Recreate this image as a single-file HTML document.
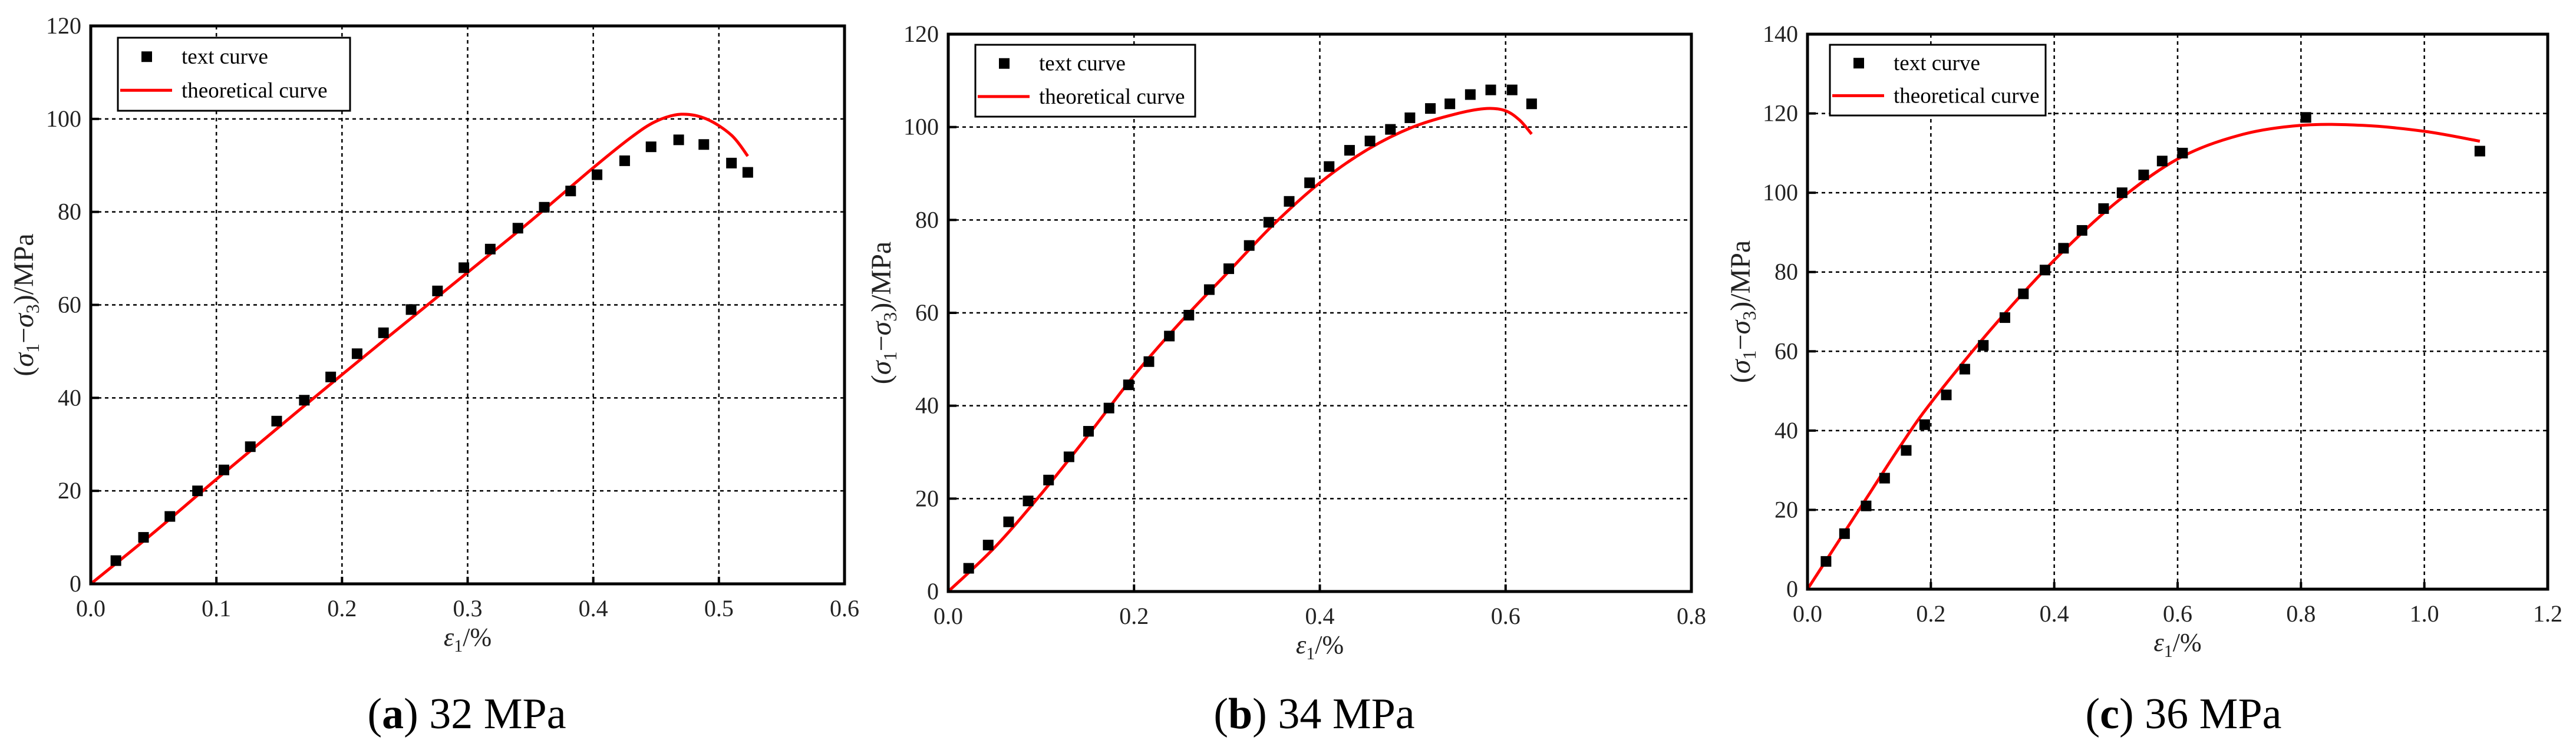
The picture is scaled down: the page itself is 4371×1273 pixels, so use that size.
<!DOCTYPE html>
<html><head><meta charset="utf-8">
<style>
html,body{margin:0;padding:0;background:#fff;}
svg{display:block;font-family:"Liberation Serif",serif;}
</style></head>
<body>
<svg id="fig" width="4371" height="1273" viewBox="0 0 4371 1273" xmlns="http://www.w3.org/2000/svg"></svg>
<script>
// Panel (a) 32 MPa
const aTestX=[0.02,0.042,0.063,0.085,0.106,0.127,0.148,0.17,0.191,0.212,0.233,0.255,0.276,0.297,0.318,0.34,0.361,0.382,0.403,0.425,0.446,0.468,0.488,0.51,0.523];
const aTestY=[5,10,14.5,20,24.5,29.5,35,39.5,44.5,49.5,54,59,63,68,72,76.5,81,84.5,88,91,94,95.5,94.5,90.5,88.5];
const aTheoX=[0,0.05,0.1,0.2,0.3,0.35,0.4,0.43,0.45,0.47,0.49,0.51,0.523];
const aTheoY=[0,11,22.5,45,67,78,89.5,96,99.5,101,100,96.5,92];
const aXTicks=["0.0","0.1","0.2","0.3","0.4","0.5","0.6"];
const aYTicks=["0","20","40","60","80","100","120"];
// Panel (b) 34 MPa
const bTestX=[0.022,0.043,0.065,0.086,0.108,0.13,0.151,0.173,0.194,0.216,0.238,0.259,0.281,0.302,0.324,0.345,0.367,0.389,0.41,0.432,0.454,0.476,0.497,0.519,0.54,0.562,0.584,0.607,0.628];
const bTestY=[5,10,15,19.5,24,29,34.5,39.5,44.5,49.5,55,59.5,65,69.5,74.5,79.5,84,88,91.5,95,97,99.5,102,104,105,107,108,108,105];
const bTheoX=[0,0.05,0.1,0.15,0.2,0.25,0.3,0.35,0.4,0.45,0.5,0.55,0.58,0.6,0.615,0.628];
const bTheoY=[0,9.5,21,33.5,46.5,58,68.5,79,88,95,100,103,104,103.5,101.5,98.5];
const bXTicks=["0.0","0.2","0.4","0.6","0.8"];
const bYTicks=["0","20","40","60","80","100","120"];
// Panel (c) 36 MPa
const cTestX=[0.03,0.06,0.095,0.125,0.16,0.19,0.225,0.255,0.285,0.32,0.35,0.385,0.415,0.445,0.48,0.51,0.545,0.575,0.608,0.808,1.09];
const cTestY=[7,14,21,28,35,41.5,49,55.5,61.5,68.5,74.5,80.5,86,90.5,96,100,104.5,108,110,119,110.5];
const cTheoX=[0,0.05,0.1,0.15,0.2,0.3,0.4,0.5,0.6,0.7,0.8,0.9,1.0,1.09];
const cTheoY=[0,12,24,36,47,66,83,97.5,108.5,114.5,117,117,115.5,113];
const cXTicks=["0.0","0.2","0.4","0.6","0.8","1.0","1.2"];
const cYTicks=["0","20","40","60","80","100","120","140"];

const NS="http://www.w3.org/2000/svg";
const svg=document.getElementById('fig');
function mk(tag,attrs,parent){const e=document.createElementNS(NS,tag);for(const k in attrs)e.setAttribute(k,attrs[k]);(parent||svg).appendChild(e);return e;}

function smoothPath(pts){
  let d='M'+pts[0][0].toFixed(1)+','+pts[0][1].toFixed(1);
  for(let i=0;i<pts.length-1;i++){
    const p0=pts[i-1]||pts[i],p1=pts[i],p2=pts[i+1],p3=pts[i+2]||p2;
    const c1=[p1[0]+(p2[0]-p0[0])/6,p1[1]+(p2[1]-p0[1])/6];
    const c2=[p2[0]-(p3[0]-p1[0])/6,p2[1]-(p3[1]-p1[1])/6];
    d+='C'+c1[0].toFixed(1)+','+c1[1].toFixed(1)+' '+c2[0].toFixed(1)+','+c2[1].toFixed(1)+' '+p2[0].toFixed(1)+','+p2[1].toFixed(1);
  }
  return d;
}

function panel(id,box,xMax,yMax,xTicks,yTicks,tx,ty,thx,thy,leg,capL,capR,capX){
  const g=mk('g',{});
  
  
  const L=box[0],R=box[1],T=box[2],B=box[3];
  const sx=v=>L+v/xMax*(R-L), sy=v=>B-v/yMax*(B-T);
  xTicks.forEach((t,i)=>{const v=parseFloat(t);const x=sx(v);
    if(i>0&&i<xTicks.length-1){const l=mk('line',{x1:x,y1:T,x2:x,y2:B,stroke:'#000','stroke-width':2.5,'stroke-dasharray':'6,6'},g);
      }
    mk('line',{x1:x,y1:B,x2:x,y2:B-12,stroke:'#000','stroke-width':4},g);
    const tt=mk('text',{x:x,y:B+55,'font-size':40,'text-anchor':'middle',fill:'#222'},g);tt.textContent=t;
    
  });
  yTicks.forEach((t,i)=>{const v=parseFloat(t);const y=sy(v);
    if(i>0&&i<yTicks.length-1){const l=mk('line',{x1:L,y1:y,x2:R,y2:y,stroke:'#000','stroke-width':2.5,'stroke-dasharray':'6,6'},g);
      }
    mk('line',{x1:L,y1:y,x2:L+14,y2:y,stroke:'#000','stroke-width':4},g);
    const tt=mk('text',{x:L-16,y:y+13,'font-size':40,'text-anchor':'end',fill:'#222'},g);tt.textContent=t;
    
  });
  const clip=mk('clipPath',{id:'clip'+id},g);mk('rect',{x:L,y:T,width:R-L,height:B-T},clip);
  const pts=thx.map((x,i)=>[sx(x),sy(thy[i])]);
  const p=mk('path',{d:smoothPath(pts),fill:'none',stroke:'#ff0000','stroke-width':5,'stroke-linejoin':'round','clip-path':'url(#clip'+id+')'},g);
  
  tx.forEach((x,i)=>{const r=mk('rect',{x:sx(x)-9,y:sy(ty[i])-9,width:18,height:18,fill:'#000'},g);
    });
  const f=mk('rect',{x:L,y:T,width:R-L,height:B-T,fill:'none',stroke:'#000','stroke-width':5},g);
  
  const lg=mk('g',{},g);
  mk('rect',{x:leg[0],y:leg[1],width:leg[2],height:leg[3],fill:'#fff',stroke:'#000','stroke-width':3},lg);
  const lh=leg[3];
  mk('rect',{x:leg[0]+40,y:leg[1]+lh*0.26-9,width:18,height:18,fill:'#000'},lg);
  const t1=mk('text',{x:leg[0]+108,y:leg[1]+lh*0.26+12,'font-size':37,fill:'#000'},lg);t1.textContent='text curve';
  
  mk('line',{x1:leg[0]+4,y1:leg[1]+lh*0.72,x2:leg[0]+92,y2:leg[1]+lh*0.72,stroke:'#ff0000','stroke-width':5},lg);
  const t2=mk('text',{x:leg[0]+108,y:leg[1]+lh*0.72+12,'font-size':37,fill:'#000'},lg);t2.textContent='theoretical curve';
  
  const xt=mk('text',{x:(L+R)/2,y:B+105,'font-size':44,'text-anchor':'middle',fill:'#222'},g);
  xt.innerHTML='<tspan font-style="italic">ε</tspan><tspan font-size="30" dy="10">1</tspan><tspan dy="-10">/%</tspan>';
  
  const cy=(T+B)/2, cx=L-98;
  const yt=mk('text',{x:cx,y:cy,'font-size':48,'text-anchor':'middle',fill:'#222',transform:'rotate(-90 '+cx+' '+cy+')'},g);
  yt.innerHTML='(<tspan font-style="italic">σ</tspan><tspan font-size="32" dy="10">1</tspan><tspan dy="-10">−</tspan><tspan font-style="italic">σ</tspan><tspan font-size="32" dy="10">3</tspan><tspan dy="-10">)/MPa</tspan>';
  
  const cp=mk('text',{x:capX,y:1236,'font-size':74,'text-anchor':'middle',fill:'#000'},g);
  cp.innerHTML='(<tspan font-weight="bold">'+capL+'</tspan>) '+capR;
  
}
panel('a',[154,1433,44,991],0.6,120,aXTicks,aYTicks,aTestX,aTestY,aTheoX,aTheoY,[200,64,394,124],'a','32 MPa',792);
panel('b',[1609,2870,58,1004],0.8,120,bXTicks,bYTicks,bTestX,bTestY,bTheoX,bTheoY,[1655,76,373,122],'b','34 MPa',2230);
panel('c',[3067,4323,58,1000],1.2,140,cXTicks,cYTicks,cTestX,cTestY,cTheoX,cTheoY,[3105,76,366,120],'c','36 MPa',3705);
</script>
</body></html>
